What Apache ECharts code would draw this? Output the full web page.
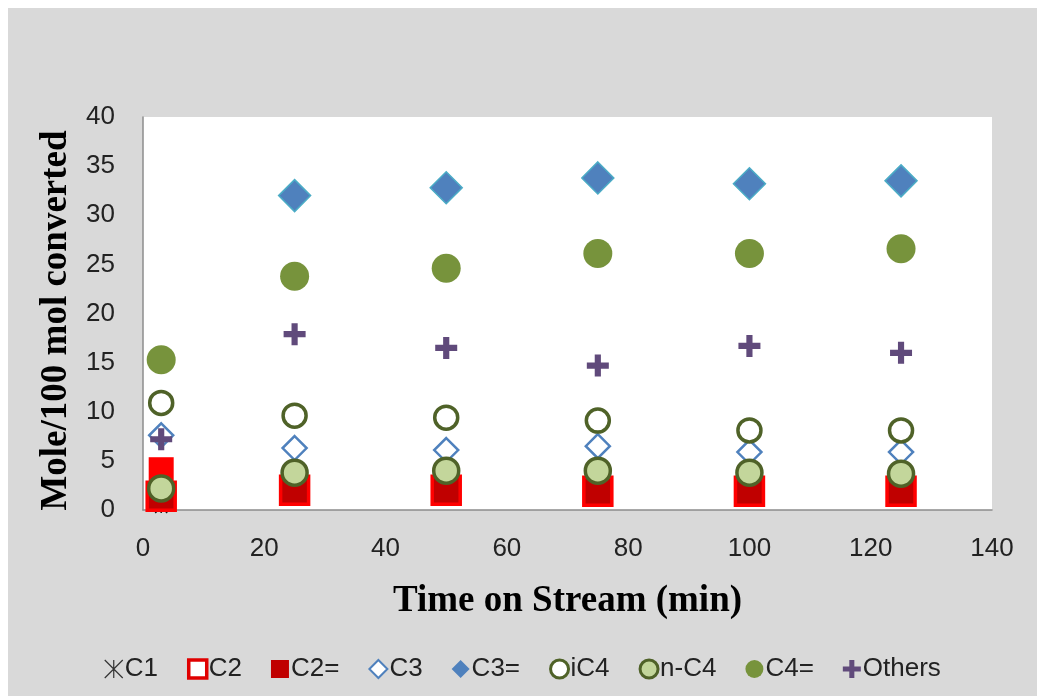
<!DOCTYPE html>
<html>
<head>
<meta charset="utf-8">
<script src="https://cdn.jsdelivr.net/npm/echarts@6/dist/echarts.min.js"></script>
<style>
  html, body { margin: 0; padding: 0; background: #ffffff; }
  #chart { position: absolute; left: 8px; top: 8px; width: 1029px; height: 688px; }
</style>
</head>
<body>
<div id="chart"></div>
<script>
// Product distribution vs. time on stream
const times  = [3, 25, 50, 75, 100, 125];
const c1     = [0.3, 1.6, 1.6, 1.6, 1.6, 1.6];
const c2     = [1.4, 2.0, 2.0, 1.9, 1.9, 1.9];
const c2e    = [4.1, 2.0, 2.0, 1.9, 1.9, 1.9];
const c3     = [7.6, 6.3, 6.1, 6.5, 5.9, 5.9];
const c3e    = [null, 32.0, 32.8, 33.8, 33.2, 33.5];
const iC4    = [10.9, 9.6, 9.4, 9.1, 8.1, 8.1];
const nC4    = [2.2, 3.8, 4.0, 4.0, 3.8, 3.7];
const c4e    = [15.3, 23.8, 24.6, 26.1, 26.1, 26.6];
const others = [7.2, 17.9, 16.5, 14.7, 16.7, 16.0];

const xTicks = [0, 20, 40, 60, 80, 100, 120, 140];
const yTicks = [0, 5, 10, 15, 20, 25, 30, 35, 40];

const pairs = vals => times.map((t, i) => [t, vals[i]]).filter(p => p[1] !== null);

const ASTERISK = 'path://M0,0L10,10M10,0L0,10M5,0L5,10';
const PLUS = 'path://M3.6,0H6.4V3.6H10V6.4H6.4V10H3.6V6.4H0V3.6H3.6Z';

const chart = echarts.init(document.getElementById('chart'));

const labelFont = '"Liberation Sans Narrow", "Liberation Sans", Arial, sans-serif';
const titleFont = '"Liberation Serif", "Times New Roman", serif';

const option = {
  backgroundColor: '#D9D9D9',
  animation: false,
  grid: { left: 135, top: 109, width: 849, height: 393, backgroundColor: '#ffffff', show: true, borderWidth: 0 },
  xAxis: {
    type: 'value', min: xTicks[0], max: xTicks[xTicks.length - 1], interval: 20,
    axisLine: { show: true, lineStyle: { color: '#8c8c8c', width: 1.5 } },
    axisTick: { show: false },
    splitLine: { show: false },
    axisLabel: { color: '#222', fontSize: 26, fontFamily: labelFont, margin: 26 },
    name: 'Time on Stream (min)', nameLocation: 'middle', nameGap: 73,
    nameTextStyle: { fontFamily: titleFont, fontWeight: 'bold', fontSize: 37, color: '#000' }
  },
  yAxis: {
    type: 'value', min: yTicks[0], max: yTicks[yTicks.length - 1], interval: 5,
    axisLine: { show: true, lineStyle: { color: '#8c8c8c', width: 1.5 } },
    axisTick: { show: false },
    splitLine: { show: false },
    axisLabel: { color: '#222', fontSize: 26, fontFamily: labelFont, margin: 28 },
    name: 'Mole/100 mol converted', nameLocation: 'middle', nameGap: 67,
    nameTextStyle: { fontFamily: titleFont, fontWeight: 'bold', fontSize: 37, color: '#000', padding: [0, 14, 0, 0] }
  },
  legend: {
    left: 'center', top: 643,
    itemWidth: 18, itemHeight: 18, itemGap: 29,
    textStyle: { fontSize: 26, fontFamily: labelFont, color: '#222', padding: [0, 0, 0, -3] },
    data: [
      { name: 'C1', icon: ASTERISK, itemStyle: { color: 'rgba(0,0,0,0)', borderColor: '#333', borderWidth: 1.2 } },
      { name: 'C2', icon: 'rect', itemStyle: { color: '#ffffff', borderColor: '#E00000', borderWidth: 3.5 } },
      { name: 'C2=', icon: 'rect', itemStyle: { color: '#C00000', borderWidth: 0 } },
      { name: 'C3', icon: 'diamond', itemStyle: { color: '#ffffff', borderColor: '#4F81BD', borderWidth: 2 } },
      { name: 'C3=', icon: 'diamond', itemStyle: { color: '#4F81BD', borderWidth: 0 } },
      { name: 'iC4', icon: 'circle', itemStyle: { color: '#ffffff', borderColor: '#4F6228', borderWidth: 3 } },
      { name: 'n-C4', icon: 'circle', itemStyle: { color: '#C3D69B', borderColor: '#4F6228', borderWidth: 3 } },
      { name: 'C4=', icon: 'circle', itemStyle: { color: '#77933C', borderWidth: 0 } },
      { name: 'Others', icon: PLUS, itemStyle: { color: '#604A7B', borderWidth: 0 } }
    ]
  },
  series: [
    { name: 'C1', type: 'scatter', clip: false, data: pairs(c1), symbol: ASTERISK, symbolSize: 12,
      itemStyle: { color: 'rgba(0,0,0,0)', borderColor: '#111', borderWidth: 1.5, opacity: 1 } },
    { name: 'C2=', type: 'scatter', clip: false, data: pairs(c2e), symbol: 'rect', symbolSize: 25,
      itemStyle: { color: '#FF0000', borderWidth: 0, opacity: 1 } },
    { name: 'C2', type: 'scatter', clip: false, data: pairs(c2), symbol: 'rect', symbolSize: 28,
      itemStyle: { color: '#C00000', borderColor: '#FF0000', borderWidth: 3.5, opacity: 1 } },
    { name: 'C3', type: 'scatter', clip: false, data: pairs(c3), symbol: 'diamond', symbolSize: 24,
      itemStyle: { color: '#ffffff', borderColor: '#4F81BD', borderWidth: 2.5, opacity: 1 } },
    { name: 'C3=', type: 'scatter', clip: false, data: pairs(c3e), symbol: 'diamond', symbolSize: 32,
      itemStyle: { color: '#4F81BD', borderColor: '#4BACC6', borderWidth: 1.5, opacity: 1 } },
    { name: 'iC4', type: 'scatter', clip: false, data: pairs(iC4), symbol: 'circle', symbolSize: 23,
      itemStyle: { color: '#ffffff', borderColor: '#4F6228', borderWidth: 3.5, opacity: 1 } },
    { name: 'n-C4', type: 'scatter', clip: false, data: pairs(nC4), symbol: 'circle', symbolSize: 25,
      itemStyle: { color: '#C3D69B', borderColor: '#4F6228', borderWidth: 3.5, opacity: 1 } },
    { name: 'C4=', type: 'scatter', clip: false, data: pairs(c4e), symbol: 'circle', symbolSize: 29,
      itemStyle: { color: '#77933C', borderWidth: 0, opacity: 1 } },
    { name: 'Others', type: 'scatter', clip: false, data: pairs(others), symbol: PLUS, symbolSize: 22,
      itemStyle: { color: '#604A7B', borderWidth: 0, opacity: 1 } }
  ]
};

chart.setOption(option);
</script>
</body>
</html>
